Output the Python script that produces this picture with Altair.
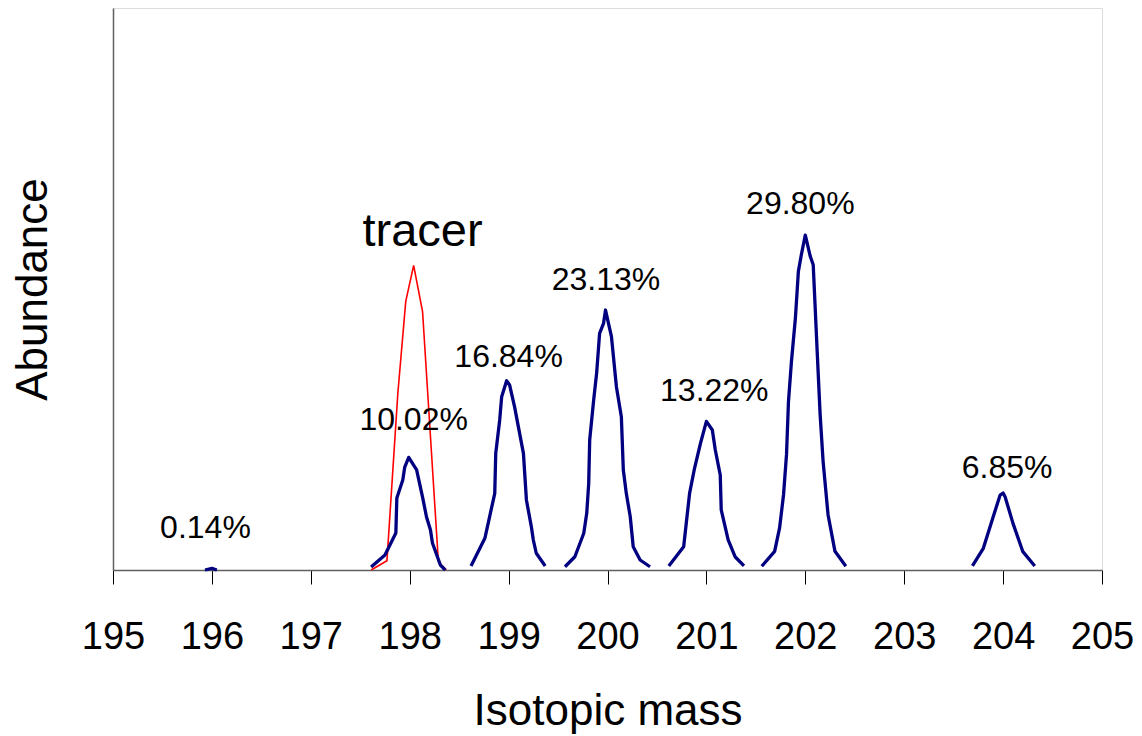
import altair as alt
import pandas as pd

FONT = "Liberation Sans"

# Blue peaks: isotopic mass (amu) and abundance (%)
p196_x = [195.93, 196.00, 196.05]
p196_y = [0.0, 0.14, 0.0]
p198_x = [197.61, 197.75, 197.86, 197.87, 197.93, 197.95, 197.99, 198.07, 198.13, 198.17, 198.21, 198.23, 198.31, 198.36]
p198_y = [0.27, 1.33, 3.29, 6.41, 8.01, 9.16, 10.02, 8.90, 6.49, 4.72, 3.56, 2.40, 0.44, 0.0]
p199_x = [198.62, 198.76, 198.86, 198.87, 198.91, 198.93, 198.98, 199.01, 199.06, 199.15, 199.18, 199.23, 199.25, 199.28, 199.37]
p199_y = [0.36, 2.82, 6.82, 10.38, 13.35, 15.42, 16.84, 16.46, 14.53, 10.38, 6.23, 3.85, 2.67, 1.49, 0.36]
p200_x = [199.57, 199.67, 199.76, 199.79, 199.81, 199.82, 199.86, 199.89, 199.92, 199.96, 199.98, 200.01, 200.04, 200.09, 200.14, 200.16, 200.19, 200.23, 200.26, 200.33, 200.43]
p200_y = [0.29, 1.18, 3.27, 5.04, 7.71, 11.57, 15.12, 17.50, 21.06, 21.95, 23.13, 21.95, 20.76, 16.31, 13.64, 8.90, 6.82, 4.74, 2.07, 0.89, 0.29]
p201_x = [200.62, 200.77, 200.80, 200.83, 200.88, 200.94, 201.00, 201.06, 201.09, 201.14, 201.15, 201.22, 201.29, 201.38]
p201_y = [0.36, 2.07, 4.45, 6.82, 9.05, 11.27, 13.22, 12.46, 10.68, 8.45, 5.34, 2.67, 1.18, 0.36]
p202_x = [201.56, 201.69, 201.74, 201.78, 201.81, 201.83, 201.86, 201.90, 201.93, 201.96, 202.00, 202.05, 202.08, 202.12, 202.15, 202.18, 202.23, 202.30, 202.41]
p202_y = [0.33, 1.66, 3.74, 6.70, 10.26, 15.01, 18.57, 22.42, 26.57, 28.05, 29.80, 27.91, 27.16, 19.46, 13.82, 9.67, 4.92, 1.66, 0.33]
p204_x = [203.69, 203.80, 203.90, 203.97, 204.00, 204.02, 204.10, 204.20, 204.32]
p204_y = [0.36, 1.93, 4.74, 6.67, 6.85, 6.52, 4.15, 1.63, 0.36]

# Red tracer peak
tracer_x = [197.61, 197.77, 197.88, 197.96, 198.04, 198.13, 198.29, 198.37]
tracer_y = [0.0, 0.83, 15.7, 23.9, 27.1, 23.0, 0.74, 0.0]

# Labels
label_text = ["0.14%", "10.02%", "16.84%", "23.13%", "13.22%", "29.80%", "6.85%"]
label_x = [195.935, 198.04, 199.00, 199.985, 201.08, 201.95, 204.04]
label_y = [3.74, 13.35, 18.95, 25.80, 15.93, 32.56, 9.07]
tracer_label = ["tracer"]
tracer_label_x = [198.13]
tracer_label_y = [30.07]

peaks = {
    "196": (p196_x, p196_y), "198": (p198_x, p198_y), "199": (p199_x, p199_y),
    "200": (p200_x, p200_y), "201": (p201_x, p201_y), "202": (p202_x, p202_y),
    "204": (p204_x, p204_y),
}
rows = []
for name, (xs, ys) in peaks.items():
    for i, (xv, yv) in enumerate(zip(xs, ys)):
        rows.append({"peak": name, "i": i, "mass": xv, "ab": yv})
blue_df = pd.DataFrame(rows)
red_df = pd.DataFrame({"i": range(len(tracer_x)), "mass": tracer_x, "ab": tracer_y})
lab_df = pd.DataFrame({"mass": label_x, "ab": label_y, "t": label_text})
tlab_df = pd.DataFrame({"mass": tracer_label_x, "ab": tracer_label_y, "t": tracer_label})

xscale = alt.Scale(domain=[195, 205], nice=False, zero=False)
yscale = alt.Scale(domain=[0, 50], nice=False)

xaxis = alt.Axis(title="Isotopic mass", values=list(range(195, 206)), format="d",
                 tickSize=14, tickColor="black", domainColor="#606060", domainWidth=1.5,
                 labelFontSize=38, labelFont=FONT, labelColor="black", labelPadding=34,
                 titleFont=FONT, titleFontSize=44, titleFontWeight="normal", titleColor="black",
                 titlePadding=33, grid=False, labelFlush=False)
yaxis = alt.Axis(title="Abundance", ticks=False, labels=False, domainColor="#606060",
                 domainWidth=1.5, titleFont=FONT, titleFontSize=44, titleFontWeight="normal",
                 titleColor="black", titlePadding=58, grid=False)

blue = alt.Chart(blue_df).mark_line(color="#000080", strokeWidth=3.3, strokeJoin="round").encode(
    x=alt.X("mass:Q", scale=xscale, axis=xaxis),
    y=alt.Y("ab:Q", scale=yscale, axis=yaxis),
    detail="peak:N",
    order="i:Q",
)
red = alt.Chart(red_df).mark_line(color="#FF0000", strokeWidth=1.6).encode(
    x=alt.X("mass:Q", scale=xscale),
    y=alt.Y("ab:Q", scale=yscale),
    order="i:Q",
)
labels = alt.Chart(lab_df).mark_text(font=FONT, fontSize=32, color="black", baseline="middle").encode(
    x="mass:Q", y="ab:Q", text="t:N")
tlabel = alt.Chart(tlab_df).mark_text(font=FONT, fontSize=47, color="black", baseline="middle").encode(
    x="mass:Q", y="ab:Q", text="t:N")

chart = alt.layer(red, blue, labels, tlabel).properties(
    width=989, height=562,
    autosize=alt.AutoSizeParams(type="none"),
    padding={"left": 105, "top": 0, "right": 32, "bottom": 164},
).configure_view(stroke=None).configure(background="white")

chart.save("out.html", embed_options={"renderer": "svg", "actions": False})
